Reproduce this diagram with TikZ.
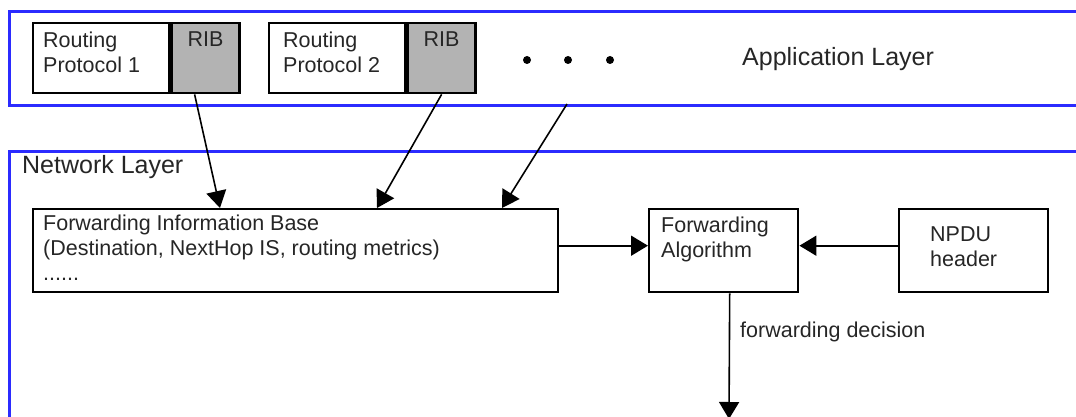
\documentclass[tikz,border=0pt]{standalone}
\usepackage{fontspec}
\setmainfont{Liberation Sans}
\usetikzlibrary{arrows.meta, positioning}
\definecolor{layerBlue}{HTML}{2B2BFF}
\definecolor{ribGray}{HTML}{B3B3B3}
\newcommand{\txtS}{\fontsize{21.5}{25}\selectfont}
\newcommand{\txtL}{\fontsize{25}{30}\selectfont}
\tikzset{
  arrowK/.style={-{Triangle[length=17pt, width=20pt]}, black, line width=1.6pt},
  layerBox/.style={rectangle, draw=layerBlue, line width=2.8pt, anchor=north west,
                   inner sep=0pt},
  boxW/.style={rectangle, draw=black, fill=white, line width=2.4pt, anchor=north west,
               inner sep=0pt},
  boxGray/.style={boxW, fill=ribGray},
  txt/.style={inner sep=0pt, align=left, font=\txtS, text=black!85},
  dotN/.style={circle, fill=black, inner sep=0pt, minimum size=8pt},
}
\begin{document}
\begin{tikzpicture}[x=1pt, y=-1pt]
        \clip (0,0) rectangle (1076,417);
        % Capas
        \node[layerBox, minimum width=1082pt, minimum height=94pt] (app) at (8,10) {};
        \node[layerBox, minimum width=1082pt, minimum height=290pt] (net) at (8,150) {};
        \node[txt, font=\txtL, anchor=base west] (applbl) at (742,66) {Application Layer};
        \node[txt, font=\txtL, anchor=base west] (netlbl) at (22,173) {Network Layer};
        % Protocolos de routing y RIB
        \node[boxW, minimum width=136pt, minimum height=70pt] (rp1) at (32,22) {};
        \node[boxGray, minimum width=68pt, minimum height=70pt, right=0pt of rp1] (rib1) {};
        \node[boxW, minimum width=136pt, minimum height=70pt] (rp2) at (268,22) {};
        \node[boxGray, minimum width=68pt, minimum height=70pt, right=0pt of rp2] (rib2) {};
        \node[txt, below right=10pt and 11pt of rp1.north west] (rp1t) {Routing\\Protocol 1};
        \node[txt, below right=10pt and 15pt of rp2.north west] (rp2t) {Routing\\Protocol 2};
        \node[txt, below=10pt of rib1.north] (rib1t) {RIB};
        \node[txt, below=10pt of rib2.north] (rib2t) {RIB};
        \foreach \x [count=\i] in {527,568,610}
          \node[dotN] (dot\i) at (\x,60) {};
        % Capa de red
        \node[boxW, minimum width=525pt, minimum height=83pt] (fib) at (32,208) {};
        \node[boxW, minimum width=149pt, minimum height=83pt] (fa) at (648,208) {};
        \node[boxW, minimum width=149pt, minimum height=83pt] (npdu) at (898,208) {};
        \node[txt, below right=7pt and 11pt of fib.north west] (fibt)
          {Forwarding Information Base\\(Destination, NextHop IS, routing metrics)\\......};
        \node[txt, below right=9pt and 13pt of fa.north west] (fat) {Forwarding\\Algorithm};
        \node[txt, below right=19pt and 32pt of npdu.north west] (npdut) {NPDU\\header};
        \node[txt, anchor=base west] (fdlbl) at (740,337) {forwarding decision};
        % Flechas
        \coordinate (dotsfoot) at (567,104);
        \coordinate (fwdout) at (729,419);
        \draw[arrowK] ([xshift=-11pt]rib1.south) -- ([xshift=188pt]fib.north west);
        \draw[arrowK] (rib2.south) -- ([xshift=345pt]fib.north west);
        \draw[arrowK] (dotsfoot) -- ([xshift=470pt]fib.north west);
        \draw[arrowK] ([yshift=5pt]fib.east) -- ([yshift=5pt]fa.west);
        \draw[arrowK] ([yshift=5pt]npdu.west) -- ([yshift=5pt]fa.east);
        \draw[arrowK] ([xshift=6pt]fa.south) -- (fwdout);
      \end{tikzpicture}
\end{document}
